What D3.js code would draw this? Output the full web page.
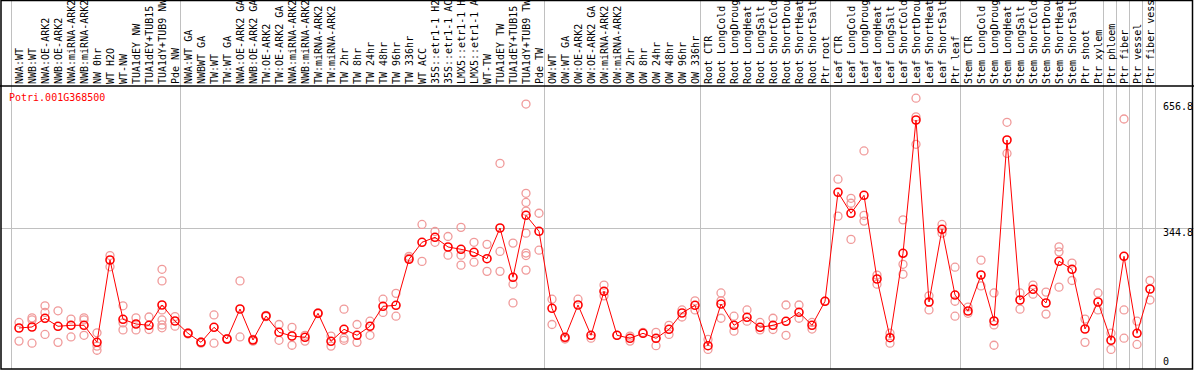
<!DOCTYPE html>
<html>
<head>
<meta charset="utf-8">
<script src="https://cdn.jsdelivr.net/npm/d3@7"></script>
<style>
  body { margin: 0; background: #fff; }
  svg { display: block; }
  .lbl { font-family: "DejaVu Sans Mono", monospace; font-size: 10px; fill: #000; }
</style>
</head>
<body>
<svg id="chart" width="1194" height="370"></svg>
<script>
// sample groups, in column order
const groupNW = ["NWA:WT", "NWB:WT", "NWA:OE-ARK2", "NWB:OE-ARK2", "NWA:miRNA-ARK2", "NWB:miRNA-ARK2",
  "NW 0hr", "WT H2O", "WT-NW", "TUA1dEY NW", "TUA1dEY+TUB15", "TUA1dY+TUB9 NW", "Pde NW"];
const groupTW = ["NWA:WT GA", "NWBWT GA", "TW:WT", "TW:WT GA", "NWA:OE-ARK2 GA", "NWB:OE-ARK2 GA",
  "TW:OE-ARK2", "TW:OE-ARK2 GA", "NWA:miRNA-ARK2", "NWB:miRNA-ARK2", "TW:miRNA-ARK2", "TW:miRNA-ARK2",
  "TW 2hr", "TW 8hr", "TW 24hr", "TW 48hr", "TW 96hr", "TW 336hr", "WT ACC",
  "35S::etr1-1 H2O", "35S::etr1-1 ACC", "LMX5::etr1-1 H2O", "LMX5::etr1-1 ACC",
  "WT-TW", "TUA1dEY TW", "TUA1dEY+TUB15", "TUA1dY+TUB9 TW", "Pde TW"];
const groupOW = ["OW:WT", "OW:WT GA", "OW:OE-ARK2", "OW:OE-ARK2 GA", "OW:miRNA-ARK2", "OW:miRNA-ARK2",
  "OW 2hr", "OW 8hr", "OW 24hr", "OW 48hr", "OW 96hr", "OW 336hr"];
const groupRoot = ["Root CTR", "Root LongCold", "Root LongDrought", "Root LongHeat", "Root LongSalt",
  "Root ShortCold", "Root ShortDrought", "Root ShortHeat", "Root ShortSalt", "Ptr root"];
const groupLeaf = ["Leaf CTR", "Leaf LongCold", "Leaf LongDrought", "Leaf LongHeat", "Leaf LongSalt",
  "Leaf ShortCold", "Leaf ShortDrought", "Leaf ShortHeat", "Leaf ShortSalt", "Ptr leaf"];
const groupStem = ["Stem CTR", "Stem LongCold", "Stem LongDrought", "Stem LongHeat", "Stem LongSalt",
  "Stem ShortCold", "Stem ShortDrought", "Stem ShortHeat", "Stem ShortSalt", "Ptr shoot", "Ptr xylem"];
const groupPhloem = ["Ptr phloem"];
const groupFiber = ["Ptr fiber"];
const groupVessel = ["Ptr vessel"];
const groupFiberVessel = ["Ptr fiber vessel"];

const groups = [groupNW, groupTW, groupOW, groupRoot, groupLeaf, groupStem,
  groupPhloem, groupFiber, groupVessel, groupFiberVessel];
const samples = groups.flat();

const geneId = "Potri.001G368500";
const yTicks = [0, 344.8, 656.8];

// mean expression per sample
const means = [
  103.6, 106.0, 126.9, 107.7, 110.1, 110.1, 69.1, 267.3, 124.5, 113.2, 110.1, 159.0, 120.4,
  90.8, 69.1, 105.3, 77.1, 149.3, 74.7, 132.5, 93.2, 84.3, 81.2, 139.0, 71.5, 100.4, 86.0,
  107.7, 155.8, 158.2, 269.0, 310.0, 322.0, 298.7, 293.1, 285.9, 270.5, 344.4, 225.7, 375.0, 336.5,
  151.0, 81.2, 159.0, 86.0, 192.0, 86.0, 78.8, 90.8, 78.8, 100.4, 139.7, 158.2,
  60.9, 161.4, 110.1, 129.3, 105.3, 110.1, 119.7, 141.4, 110.1, 167.9,
  430.4, 379.8, 423.2, 221.6, 80.2, 283.5, 604.5, 166.2, 341.3, 183.0,
  144.5, 231.2, 120.4, 556.4, 171.0, 196.8, 163.8, 264.2, 244.9, 101.2, 166.2,
  73.9, 276.3, 90.8, 197.5
];

// individual replicates per sample
const replicates = [
  [117, 72], [128, 123, 67], [157, 141, 88], [145, 69], [125, 82], [128, 123, 86],
  [92, 60, 50], [278, 251], [157, 116, 99], [128, 99], [130, 100], [245, 217, 147, 123, 111, 104], [131, 108],
  [92, 89], [70, 67], [135, 67], [78, 76], [217, 82], [76, 72], [134, 131], [112, 74], [105, 62],
  [86, 72], [140, 138], [84, 60], [149, 79, 74], [112, 69], [120, 86], [173, 141], [187, 132],
  [276, 272], [353, 264], [336, 310], [324, 279], [346, 279, 255], [310, 262], [305, 240],
  [500, 288, 240], [308, 209, 164], [643, 428, 406, 385, 332, 284, 278, 243], [380, 291],
  [173, 112], [79, 77], [173], [79], [207, 181], [86], [72, 84], [93], [93, 61], [110, 88],
  [147, 130], [169, 147],
  [76, 52], [188, 169, 127], [132, 96], [147, 120], [117, 99], [127, 100], [159, 86], [159, 127],
  [117, 101], [168],
  [462, 373], [416, 404, 317], [530, 375, 361], [231, 209], [91, 67], [364, 257, 233],
  [657, 612, 546], [181, 147], [353, 332], [250, 168, 132],
  [154, 139], [267, 205], [188, 111, 62], [599, 524], [188, 149], [207, 185], [190, 137],
  [299, 287, 202], [260, 218], [125, 69], [188, 147],
  [91, 52], [607, 147, 79], [120, 64], [218, 171]
];

const W = 1194, H = 370;
const headerBottom = 86, plotBottom = 369;
const maxChars = 14; // header is only tall enough for 14 characters
const svg = d3.select("#chart");

const x = d3.scaleBand().domain(d3.range(samples.length)).range([11, 1155]);
const y = d3.scaleLinear().domain([0, 656.8]).range([371, 98.3]);
const cx = i => x(i) + 8;

// group separators
let starts = [], k = 0;
groups.forEach(g => { starts.push(k); k += g.length; });
const sepX = starts.map(s => x(s)).concat([x.range()[1]]);

svg.append("g")
  .selectAll("line")
  .data(sepX)
  .join("line")
  .attr("x1", d => d + 0.5).attr("x2", d => d + 0.5)
  .attr("y1", 0).attr("y2", plotBottom)
  .attr("stroke", "#c0c0c0").attr("stroke-width", 1);

// horizontal grid line at the middle tick
svg.append("line")
  .attr("x1", 1).attr("x2", W)
  .attr("y1", Math.round(y(yTicks[1])) + 0.5).attr("y2", Math.round(y(yTicks[1])) + 0.5)
  .attr("stroke", "#c0c0c0");

// sample labels, rotated (long names cut to what fits, as in the original)
const header = svg.append("g");
header.selectAll("text")
  .data(samples)
  .join("text")
  .attr("class", "lbl")
  .attr("transform", (d, i) => `translate(${x(i) + 12},84) rotate(-90)`)
  .text(d => d.slice(0, maxChars));

// frame
svg.append("rect")
  .attr("x", 1).attr("y", 0.5)
  .attr("width", W - 2.5).attr("height", plotBottom - 0.5)
  .attr("fill", "none").attr("stroke", "#000").attr("stroke-width", 1.5);
svg.append("line")
  .attr("x1", 0).attr("x2", W)
  .attr("y1", headerBottom).attr("y2", headerBottom)
  .attr("stroke", "#000").attr("stroke-width", 1.5);

// right axis labels
const tickOffset = { 0: -6, 344.8: 8, 656.8: 12 };
svg.append("g")
  .selectAll("text")
  .data(yTicks)
  .join("text")
  .attr("class", "lbl")
  .attr("x", 1163)
  .attr("y", d => y(d) + tickOffset[d])
  .text(d => d);

// title
svg.append("text")
  .attr("class", "lbl")
  .attr("x", 9).attr("y", 101)
  .style("fill", "#ff0000")
  .text(geneId);

// replicates
const reps = replicates.flatMap((r, i) => r.map(v => ({ i, v })));
svg.append("g")
  .selectAll("circle")
  .data(reps)
  .join("circle")
  .attr("cx", d => cx(d.i))
  .attr("cy", d => y(d.v))
  .attr("r", 4)
  .attr("fill", "none")
  .attr("stroke", "#f09a9a")
  .attr("stroke-width", 1.3);

// mean line
svg.append("path")
  .datum(means)
  .attr("d", d3.line().x((d, i) => cx(i)).y(d => y(d)))
  .attr("fill", "none")
  .attr("stroke", "#ff0000")
  .attr("stroke-width", 1);

svg.append("g")
  .selectAll("circle")
  .data(means)
  .join("circle")
  .attr("cx", (d, i) => cx(i))
  .attr("cy", d => y(d))
  .attr("r", 4)
  .attr("fill", "none")
  .attr("stroke", "#ff0000")
  .attr("stroke-width", 1.6);
</script>
</body>
</html>
